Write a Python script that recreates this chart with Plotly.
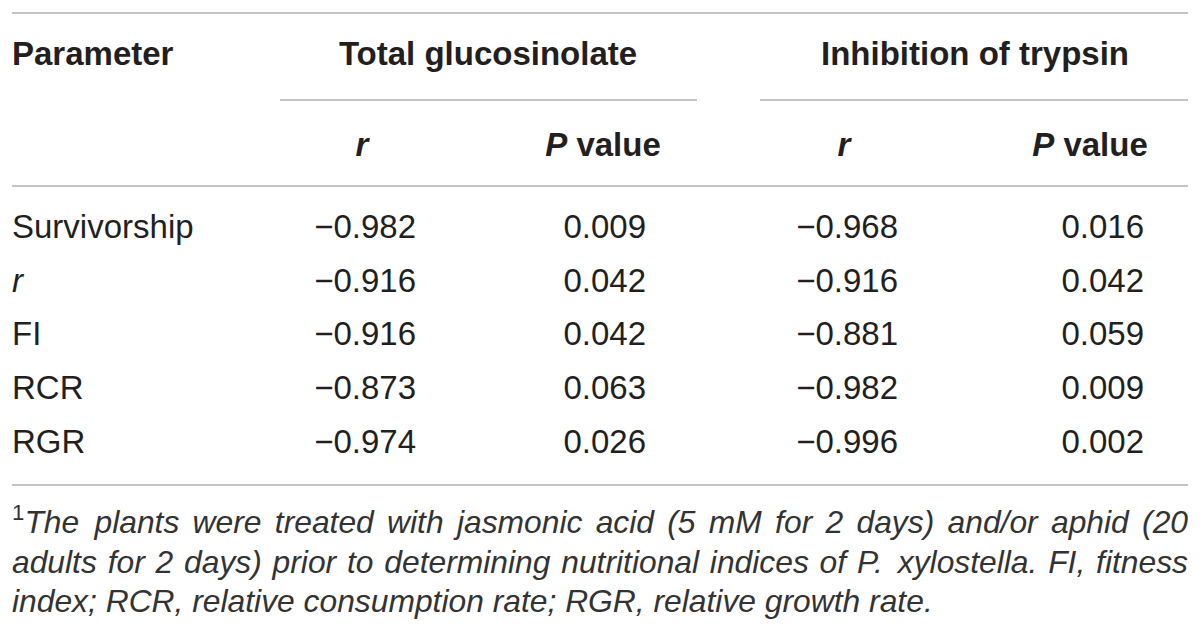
import plotly.graph_objects as go

# table content
parameters = ["Survivorship", "<i>r</i>", "FI", "RCR", "RGR"]
gluc_r = ["−0.982", "−0.916", "−0.916", "−0.873", "−0.974"]
gluc_p = ["0.009", "0.042", "0.042", "0.063", "0.026"]
tryp_r = ["−0.968", "−0.916", "−0.881", "−0.982", "−0.996"]
tryp_p = ["0.016", "0.042", "0.059", "0.009", "0.002"]
group_headers = ["Total glucosinolate", "Inhibition of trypsin"]
sub_headers = ["<i>r</i>", "<i>P</i> value", "<i>r</i>", "<i>P</i> value"]
footnote = [
    "The plants were treated with jasmonic acid (5 mM for 2 days) and/or aphid (20",
    "adults for 2 days) prior to determining nutritional indices of P. xylostella. FI, fitness",
    "index; RCR, relative consumption rate; RGR, relative growth rate.",
]

# layout, in page pixels (page body has an 8px margin)
PAD = 8
W, H = 1200, 638
row_y = [230, 283.5, 337, 391, 444.5]
col_right = [416, 646, 898, 1144]
sub_x = [362, 603, 844, 1090]
group_x = [488, 975]
head_y = [57, 148]
foot_y = [525, 565, 604]
LEFT, RIGHT = 12, 1188
FONT = "Liberation Sans"
INK = "#231f20"
RULE = "#c4c4c4"
BODY = 33
FOOT = 31.8

# Arial / Liberation Sans advance widths (1/1000 em), used to justify the footnote
ADV = dict(zip("abcdefghijklmnopqrstuvwxyz",
               [556, 556, 500, 556, 556, 278, 556, 556, 222, 222, 500, 222, 833,
                556, 556, 556, 556, 333, 500, 278, 556, 500, 722, 500, 500, 500]))
ADV.update(zip("ABCDEFGHIJKLMNOPQRSTUVWXYZ",
               [667, 667, 722, 722, 667, 611, 778, 722, 278, 500, 667, 556, 833,
                722, 778, 667, 778, 722, 667, 611, 722, 667, 944, 667, 667, 611]))
ADV.update({c: 556 for c in "0123456789"})
ADV.update({" ": 278, ".": 278, ",": 278, ";": 278, "(": 333, ")": 333, "/": 278})


def text_width(s, size):
    return sum(ADV.get(c, 556) for c in s) * size / 1000.0


fig = go.Figure()

# body cells
fig.add_trace(go.Scatter(x=[LEFT] * len(parameters), y=row_y, mode="text", text=parameters,
                         textposition="middle right",
                         textfont=dict(family=FONT, size=BODY, color=INK)))
for cx, col in zip(col_right, [gluc_r, gluc_p, tryp_r, tryp_p]):
    fig.add_trace(go.Scatter(x=[cx] * len(col), y=row_y, mode="text", text=col,
                             textposition="middle left",
                             textfont=dict(family=FONT, size=BODY, color=INK)))

# headers
fig.add_trace(go.Scatter(x=[LEFT], y=[head_y[0]], mode="text", text=["<b>Parameter</b>"],
                         textposition="middle right",
                         textfont=dict(family=FONT, size=BODY, color=INK)))
fig.add_trace(go.Scatter(x=group_x, y=[head_y[0]] * 2, mode="text",
                         text=[f"<b>{h}</b>" for h in group_headers],
                         textposition="middle center",
                         textfont=dict(family=FONT, size=BODY, color=INK)))
fig.add_trace(go.Scatter(x=sub_x, y=[head_y[1]] * 4, mode="text",
                         text=[f"<b>{h}</b>" for h in sub_headers],
                         textposition="middle center",
                         textfont=dict(family=FONT, size=BODY, color=INK)))

# footnote: first two lines justified word by word, last line left aligned
sup_w = 0.7 * 556 * FOOT / 1000.0 + 2
for i, line in enumerate(footnote):
    words = line.split(" ")
    labels = [f"<i>{w}</i>" for w in words]
    widths = [text_width(w, FOOT) for w in words]
    if i == 0:
        labels[0] = "<sup>1</sup><i>" + words[0] + "</i>"
        widths[0] += sup_w
    if i < len(footnote) - 1:
        gap = (RIGHT - LEFT - sum(widths)) / (len(words) - 1)
        xs = []
        x = LEFT
        for w in widths:
            xs.append(x)
            x += w + gap
    else:
        xs = [LEFT]
        labels = ["<i>" + line + "</i>"]
    fig.add_trace(go.Scatter(x=xs, y=[foot_y[i]] * len(xs), mode="text", text=labels,
                             textposition="middle right",
                             textfont=dict(family=FONT, size=FOOT, color="#333333")))

# rules
for y0, x0, x1 in [(13, LEFT, RIGHT), (100, 280, 697), (100, 760, RIGHT),
                   (186, LEFT, RIGHT), (485, LEFT, RIGHT)]:
    fig.add_shape(type="line", x0=x0, x1=x1, y0=y0, y1=y0,
                  line=dict(color=RULE, width=2))

fig.update_layout(
    width=W - 2 * PAD, height=H - 2 * PAD,
    margin=dict(l=0, r=0, t=0, b=0),
    paper_bgcolor="white", plot_bgcolor="white",
    showlegend=False,
    xaxis=dict(range=[PAD, W - PAD], visible=False, fixedrange=True),
    yaxis=dict(range=[H - PAD, PAD], visible=False, fixedrange=True),
)

fig.write_html("out.html", config={"displayModeBar": False})
